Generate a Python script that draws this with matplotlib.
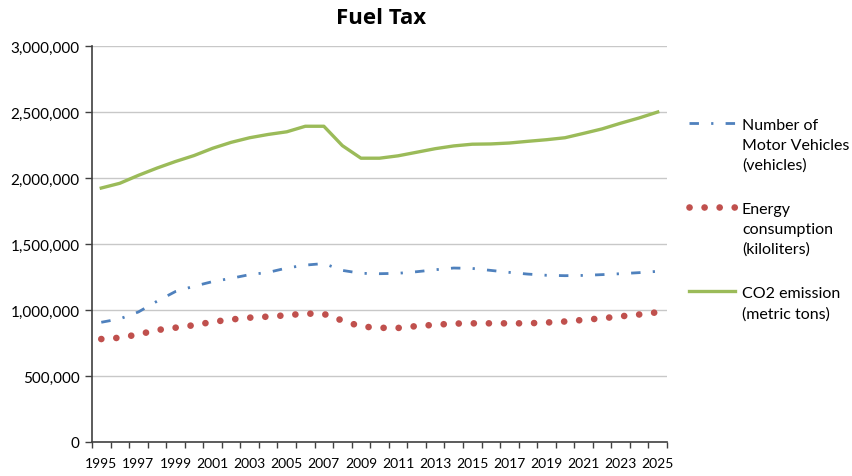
import matplotlib
matplotlib.use("Agg")
import matplotlib.pyplot as plt
from matplotlib.lines import Line2D
from matplotlib.ticker import FuncFormatter, MultipleLocator

plt.rcParams['font.family'] = ['Lato', 'DejaVu Sans']

years = list(range(1995, 2026))

vehicles = [907000, 933000, 985000, 1066000, 1140000, 1180000, 1215000, 1240000,
            1268000, 1285000, 1318000, 1340000, 1352000, 1300000, 1278000, 1275000,
            1278000, 1290000, 1305000, 1318000, 1315000, 1300000, 1285000, 1272000,
            1263000, 1260000, 1262000, 1268000, 1275000, 1283000, 1293000]

energy = [780000, 790000, 815000, 848000, 866000, 885000, 910000, 928000,
          942000, 950000, 960000, 973000, 970000, 920000, 875000, 865000,
          864000, 878000, 888000, 897000, 899000, 899000, 899000, 899000,
          905000, 913000, 925000, 937000, 952000, 966000, 983000]

co2 = [1924000, 1960000, 2020000, 2075000, 2125000, 2170000, 2225000, 2270000,
       2305000, 2330000, 2350000, 2392000, 2392000, 2245000, 2150000, 2150000,
       2168000, 2195000, 2222000, 2243000, 2256000, 2258000, 2265000, 2278000,
       2290000, 2305000, 2338000, 2372000, 2415000, 2455000, 2500000]

labels = ["Number of\nMotor Vehicles\n(vehicles)",
          "Energy\nconsumption\n(kiloliters)",
          "CO2 emission\n(metric tons)"]

W, H = 853, 477
fig = plt.figure(figsize=(W / 100, H / 100), dpi=100)
ax = fig.add_axes([92 / W, 34 / H, 575 / W, 396 / H])

styles = [
    dict(color='#4F81BD', lw=2.0, linestyle=(0, (3.4, 4.4, 0.8, 4.4))),
    dict(color='#C0504D', lw=4.8, linestyle=(0, (0.01, 2.25)), dash_capstyle='round'),
    dict(color='#9BBB59', lw=2.4),
]

for vals, st in zip([vehicles, energy, co2], styles):
    ax.plot(years, vals, **st)

ax.set_xlim(1994.5, 2025.5)
ax.set_ylim(0, 3000000)
ax.set_xticks(years[::2])
ax.set_xticks([y + 0.5 for y in range(1994, 2026)], minor=True)
ax.tick_params(axis='x', which='major', length=0, pad=11, labelsize=10)
ax.tick_params(axis='x', which='minor', length=4.3, width=1, color='#404040')
ax.yaxis.set_major_locator(MultipleLocator(500000))
ax.yaxis.set_major_formatter(FuncFormatter(lambda v, p: f"{int(v):,}"))
ax.tick_params(axis='y', length=5, width=1, color='#404040', labelsize=11, pad=4)

ax.grid(axis='y', color='#C8C8C8', lw=1)
ax.set_axisbelow(True)
for s in ['top', 'right']:
    ax.spines[s].set_visible(False)
for s in ['left', 'bottom']:
    ax.spines[s].set_color('#404040')
    ax.spines[s].set_linewidth(1.2)

fig.text(381 / W, 1 - 18 / H, "Fuel Tax", fontsize=16, fontweight='bold',
         family=['Open Sans', 'DejaVu Sans'], ha='center', va='center')

# legend, handle beside first line of each entry
for i, (lab, st) in enumerate(zip(labels, styles)):
    yc = 124 + 84 * i
    fig.add_artist(Line2D([689 / W, 735 / W], [1 - yc / H, 1 - yc / H],
                          transform=fig.transFigure, **st))
    fig.text(742 / W, 1 - (yc - 5) / H, lab, fontsize=11.5, ha='left', va='top',
             linespacing=1.52)

fig.savefig("out.png", dpi=100)
